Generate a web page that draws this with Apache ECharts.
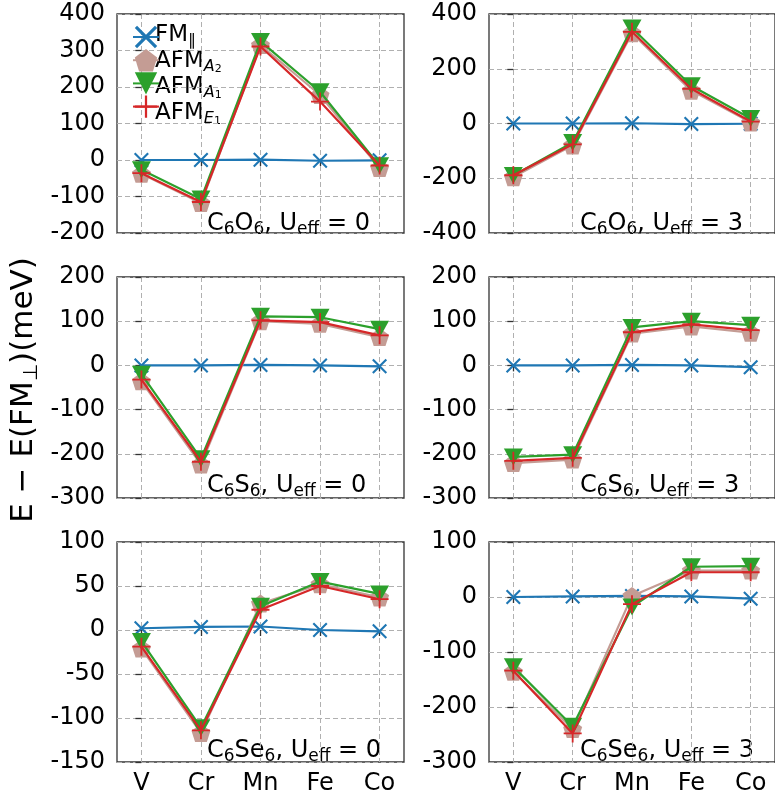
<!DOCTYPE html>
<html>
<head>
<meta charset="utf-8">
<script src="https://cdn.jsdelivr.net/npm/echarts@6/dist/echarts.min.js"></script>
<style>
html, body { margin: 0; padding: 0; background: #fff; }
#chart { width: 775px; height: 799px; }
</style>
</head>
<body>
<div id="chart"></div>
<script>
// categories (x axis)
const metals = ['V', 'Cr', 'Mn', 'Fe', 'Co'];

// C6O6, Ueff = 0
const o6u0Fm = [0, 0, 1, -2, -1];
const o6u0A2 = [-38, -118, 315, 178, -22];
const o6u0A1 = [-27, -107, 325, 187, -16];
const o6u0E1 = [-36, -115, 311, 160, -15];

// C6O6, Ueff = 3
const o6u3Fm = [0, 0, 1, -2, -1];
const o6u3A2 = [-196, -80, 330, 120, 4];
const o6u3A1 = [-190, -69, 349, 138, 18];
const o6u3E1 = [-189, -76, 335, 127, 7];

// C6S6, Ueff = 0
const s6u0Fm = [0, 0, 1, 0, -2];
const s6u0A2 = [-36, -224, 100, 94, 64];
const s6u0A1 = [-20, -211, 111, 109, 82];
const s6u0E1 = [-32, -218, 102, 98, 68];

// C6S6, Ueff = 3
const s6u3Fm = [0, 0, 1, 0, -4];
const s6u3A2 = [-221, -213, 72, 88, 74];
const s6u3A1 = [-207, -202, 86, 100, 91];
const s6u3E1 = [-216, -209, 75, 93, 80];

// C6Se6, Ueff = 0
const se6u0Fm = [2, 3.5, 4, 0, -1.5];
const se6u0A2 = [-21, -117, 30, 52, 37];
const se6u0A1 = [-13, -111, 27, 55, 41];
const se6u0E1 = [-19, -114, 23, 50, 35];

// C6Se6, Ueff = 3
const se6u3Fm = [0, 1, 2, 1, -3];
const se6u3A2 = [-136, -240, 2, 48, 48];
const se6u3A1 = [-127, -235, -18, 55, 56];
const se6u3E1 = [-134, -248, -13, 45, 45];

// y tick ranges per panel
const yMins = [-200, -400, -300, -300, -150, -300];
const yMaxs = [400, 400, 200, 200, 100, 100];
const ySteps = [100, 200, 100, 100, 50, 100];

const panelData = [
  [o6u0Fm, o6u0A2, o6u0A1, o6u0E1],
  [o6u3Fm, o6u3A2, o6u3A1, o6u3E1],
  [s6u0Fm, s6u0A2, s6u0A1, s6u0E1],
  [s6u3Fm, s6u3A2, s6u3A1, s6u3E1],
  [se6u0Fm, se6u0A2, se6u0A1, se6u0E1],
  [se6u3Fm, se6u3A2, se6u3A1, se6u3E1]
];
const panelLabels = [
  ['O', '0'], ['O', '3'], ['S', '0'], ['S', '3'], ['Se', '0'], ['Se', '3']
];

const seriesNames = ['FM', 'AFM_A2', 'AFM_A1', 'AFM_E1'];
// legend labels as rich text (main part + subscripts)
const legendLabels = [
  '{n|FM}{s|∥}',
  '{n|AFM}{i|A}{ss|2}',
  '{n|AFM}{i|A}{ss|1}',
  '{n|AFM}{i|E}{ss|1}'
];
const colors = ['#1f77b4', '#c49c94', '#2ca02c', '#d62728'];
const symbols = [
  'path://M0,1L1,0L5,4L9,0L10,1L6,5L10,9L9,10L5,6L1,10L0,9L4,5Z',
  'path://M1,0L1.951,0.691L1.588,1.809L0.412,1.809L0.049,0.691Z',
  'path://M0,0L10,0L5,9Z',
  'path://M4.5,0L5.5,0L5.5,4.5L10,4.5L10,5.5L5.5,5.5L5.5,10L4.5,10L4.5,5.5L0,5.5L0,4.5L4.5,4.5Z'
];
const symbolSizes = [15, [19, 18], [19, 17], 18];

const FONT = 'DejaVu Sans';
const colLeft = [117, 489];
const colWidth = [287, 288];
const rowTop = [14, 277, 542];
const rowHeight = [219, 221, 220];
const baseY = [238, 500, 765];
const textX = [207, 580];

const grids = [], xAxes = [], yAxes = [], series = [], graphics = [];

for (let p = 0; p < 6; p++) {
  const col = p % 2, row = Math.floor(p / 2);
  grids.push({
    left: colLeft[col], top: rowTop[row], width: colWidth[col], height: rowHeight[row],
    show: true, borderColor: '#333', borderWidth: 1.3, backgroundColor: 'transparent'
  });
  xAxes.push({
    gridIndex: p, type: 'value', min: -0.41, max: 4.41,
    axisLine: {show: false},
    axisTick: {show: true, length: 6, lineStyle: {color: '#333', width: 1.3}, customValues: [0, 1, 2, 3, 4]},
    axisLabel: {
      show: row === 2, margin: 10, customValues: [0, 1, 2, 3, 4],
      formatter: v => metals[Math.round(v)],
      fontFamily: FONT, fontSize: 24, color: '#000'
    },
    splitLine: {show: true, lineStyle: {color: '#b0b0b0', type: [5, 3], width: 1}}
  });
  yAxes.push({
    gridIndex: p, type: 'value', min: yMins[p], max: yMaxs[p], interval: ySteps[p],
    axisLine: {show: false},
    axisTick: {show: true, length: 6, lineStyle: {color: '#333', width: 1.3}},
    axisLabel: {margin: 12, fontFamily: FONT, fontSize: 24, color: '#000'},
    splitLine: {show: true, lineStyle: {color: '#b0b0b0', type: [5, 3], width: 1}}
  });
  for (let s = 0; s < 4; s++) {
    series.push({
      name: seriesNames[s], type: 'line', xAxisIndex: p, yAxisIndex: p,
      data: metals.map((m, i) => [i, panelData[p][s][i]]),
      symbol: symbols[s], symbolSize: symbolSizes[s], showAllSymbol: true,
      z: 2 + s, color: colors[s],
      itemStyle: {color: colors[s], opacity: 1},
      lineStyle: {color: colors[s], width: 2.2},
      emphasis: {disabled: true}
    });
  }
  const lab = panelLabels[p];
  graphics.push({
    type: 'text', x: textX[col], y: baseY[row],
    style: {
      text: '{n|C}{s|6}{n|' + lab[0] + '}{s|6}{n|, U}{s|eff}{n| = ' + lab[1] + '}',
      align: 'left', verticalAlign: 'bottom',
      rich: {
        n: {fontFamily: FONT, fontSize: 24, lineHeight: 28, fill: '#000'},
        s: {fontFamily: FONT, fontSize: 17, lineHeight: 16, verticalAlign: 'bottom', fill: '#000'}
      }
    }
  });
}

// legend labels (drawn next to the legend icons)
for (let s = 0; s < 4; s++) {
  graphics.push({
    type: 'text', x: 155, y: 49 + 26 * s,
    style: {
      text: legendLabels[s],
      align: 'left', verticalAlign: 'bottom',
      rich: {
        n: {fontFamily: FONT, fontSize: 23, lineHeight: 28, fill: '#000'},
        s: {fontFamily: FONT, fontSize: 16, lineHeight: 14, verticalAlign: 'bottom', fill: '#000'},
        i: {fontFamily: FONT, fontSize: 16, fontStyle: 'italic', lineHeight: 12, verticalAlign: 'bottom', fill: '#000'},
        ss: {fontFamily: FONT, fontSize: 11, lineHeight: 4, verticalAlign: 'bottom', fill: '#000'}
      }
    }
  });
}

graphics.push({
  type: 'text', x: 24, y: 390, rotation: Math.PI / 2,
  style: {
    text: '{n|E − E(FM}{s|⊥}{n|)(meV)}',
    align: 'center', verticalAlign: 'middle',
    rich: {
      n: {fontFamily: FONT, fontSize: 31, lineHeight: 36, fill: '#000'},
      s: {fontFamily: FONT, fontSize: 20, lineHeight: 20, verticalAlign: 'bottom', fill: '#000'}
    }
  }
});

const option = {
  animation: false,
  backgroundColor: '#fff',
  grid: grids,
  xAxis: xAxes,
  yAxis: yAxes,
  legend: {
    data: seriesNames,
    orient: 'vertical', left: 127, top: 18,
    itemWidth: 26, itemHeight: 28, itemGap: -2,
    formatter: () => '',
    textStyle: {fontSize: 1}
  },
  graphic: graphics,
  series: series
};

const myChart = echarts.init(document.getElementById('chart'));
myChart.setOption(option);
</script>
</body>
</html>
